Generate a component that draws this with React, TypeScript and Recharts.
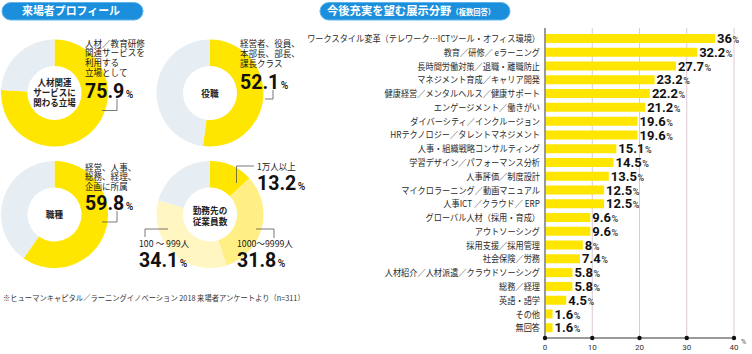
import React from 'react';
import { PieChart, Pie, Cell, BarChart, Bar, XAxis, YAxis, CartesianGrid, LabelList } from 'recharts';

// ---- data ----
const categories = [
  'ワークスタイル変革（テレワーク…ICTツール・オフィス環境）',
  '教育／研修／ eラーニング',
  '長時間労働対策／退職・離職防止',
  'マネジメント育成／キャリア開発',
  '健康経営／メンタルヘルス／健康サポート',
  'エンゲージメント／働きがい',
  'ダイバーシティ／インクルージョン',
  'HRテクノロジー／タレントマネジメント',
  '人事・組織戦略コンサルティング',
  '学習デザイン／パフォーマンス分析',
  '人事評価／制度設計',
  'マイクロラーニング／動画マニュアル',
  '人事ICT ／クラウド／ ERP',
  'グローバル人材（採用・育成）',
  'アウトソーシング',
  '採用支援／採用管理',
  '社会保険／労務',
  '人材紹介／人材派遣／クラウドソーシング',
  '総務／経理',
  '英語・語学',
  'その他',
  '無回答',
];
const values = [36, 32.2, 27.7, 23.2, 22.2, 21.2, 19.6, 19.6, 15.1, 14.5, 13.5, 12.5, 12.5, 9.6, 9.6, 8, 7.4, 5.8, 5.8, 4.5, 1.6, 1.6];
const xTicks = [0, 10, 20, 30, 40];

const positionShares = [75.9, 24.1];
const roleShares = [52.1, 47.9];
const jobShares = [59.8, 40.2];
const sizeNames = ['1万人以上', '1000～9999人', '100 ～ 999人', 'その他'];
const sizeShares = [13.2, 31.8, 34.1, 20.9];

const barData = categories.map((name, i) => ({ name, value: values[i] }));
const toPie = (arr: number[], names?: string[]) => arr.map((v, i) => ({ name: names ? names[i] : String(i), value: v }));

const JP = '"Noto Sans CJK JP", "Noto Sans", sans-serif';
const NUM = 'Roboto, "Noto Sans", sans-serif';
const YELLOW = '#ffe600';
const GREY = '#e6edf3';
const BLUE = '#1b8fdb';

const twoColors = [YELLOW, GREY];
const sizeColors = [YELLOW, '#ffef85', '#fff6c2', GREY];

const BigNum = ({ x, y, v }: { x: number; y: number; v: string }) => (
  <text transform={`translate(${x} ${y}) scale(0.93 1)`} x={0} y={0} fontFamily={NUM} fill="#111">
    <tspan fontSize={21} fontWeight={700}>{v}</tspan>
    <tspan fontSize={11} fontWeight={500} dx={1.5}>%</tspan>
  </text>
);

const Lines = ({ x, ys, lines, size = 8.9, weight = 400, anchor = 'start', sx = 0.96 }: any) => (
  <g>
    {lines.map((l: string, i: number) => (
      <text key={i} transform={`translate(${x} ${ys[i]}) scale(${sx} 1)`} x={0} y={0} fontFamily={JP} fontSize={size} fontWeight={weight} fill="#222" textAnchor={anchor}>{l}</text>
    ))}
  </g>
);

const YTick = (props: any) => {
  const { x, y, payload } = props;
  return (
    <text transform={`translate(${x} ${y + 3.2}) scale(0.91 1)`} x={0} y={0} textAnchor="end" fontFamily={JP} fontSize={9} fill="#2a2a2a">{payload.value}</text>
  );
};

const XTick = (props: any) => {
  const { x, y, payload } = props;
  return (
    <g>
      <circle cx={x} cy={y - 5} r={2.2} fill="#111" />
      <text x={x} y={y + 6.5} textAnchor="middle" fontFamily={NUM} fontSize={8} fill="#333">{payload.value}</text>
    </g>
  );
};

const ValueLabel = (props: any) => {
  const { x, y, width, height, value } = props;
  return (
    <text x={x + width + 2} y={y + height / 2 + 4.6} fontFamily={NUM} fill="#111">
      <tspan fontSize={13} fontWeight={700}>{value}</tspan>
      <tspan fontSize={9} fontWeight={500} fill="#333" dx={0.5}>%</tspan>
    </text>
  );
};

const donut = { inner: 27, outer: 53.5 };

export default function App() {
  return (
    <div style={{ position: 'absolute', left: 0, top: 0, width: 752, height: 354, background: '#fff', overflow: 'hidden' }}>
      <div style={{ position: 'absolute', left: 0, top: 0 }}>
        <PieChart width={300} height={300} margin={{ top: 0, right: 0, bottom: 0, left: 0 }}>
          <Pie data={toPie(positionShares)} dataKey="value" cx={54.5} cy={93} innerRadius={donut.inner} outerRadius={donut.outer} startAngle={90} endAngle={-270} stroke="none" isAnimationActive={false}>
            {positionShares.map((_, i) => <Cell key={i} fill={twoColors[i]} />)}
          </Pie>
          <Pie data={toPie(roleShares)} dataKey="value" cx={210} cy={93} innerRadius={donut.inner} outerRadius={donut.outer} startAngle={90} endAngle={-270} stroke="none" isAnimationActive={false}>
            {roleShares.map((_, i) => <Cell key={i} fill={twoColors[i]} />)}
          </Pie>
          <Pie data={toPie(jobShares)} dataKey="value" cx={54.5} cy={214.5} innerRadius={donut.inner} outerRadius={donut.outer} startAngle={90} endAngle={-270} stroke="none" isAnimationActive={false}>
            {jobShares.map((_, i) => <Cell key={i} fill={twoColors[i]} />)}
          </Pie>
          <Pie data={toPie(sizeShares, sizeNames)} dataKey="value" cx={210} cy={214.5} innerRadius={donut.inner} outerRadius={donut.outer} startAngle={90} endAngle={-270} stroke="none" isAnimationActive={false}>
            {sizeShares.map((_, i) => <Cell key={i} fill={sizeColors[i]} />)}
          </Pie>
        </PieChart>
      </div>

      <div style={{ position: 'absolute', left: 300, top: 0 }}>
        <BarChart width={452} height={354} data={barData} layout="vertical" margin={{ top: 28, right: 18, bottom: 0, left: 0 }}>
          <CartesianGrid horizontal={false} vertical={true} stroke="#dcc9d2" strokeWidth={1} />
          <XAxis type="number" domain={[0, 40]} ticks={xTicks} height={16} tickSize={0} tickMargin={5} axisLine={{ stroke: '#9a9a9a', strokeWidth: 2 }} tickLine={false} tick={<XTick />} interval={0} />
          <YAxis type="category" dataKey="name" width={245} tickSize={0} tickMargin={5} axisLine={{ stroke: '#9a9a9a', strokeWidth: 2 }} tickLine={false} tick={<YTick />} interval={0} padding={{ top: 4, bottom: 3 }} />
          <Bar dataKey="value" fill={YELLOW} barSize={9} isAnimationActive={false}>
            <LabelList dataKey="value" content={<ValueLabel />} />
          </Bar>
        </BarChart>
      </div>

      <svg width={752} height={354} style={{ position: 'absolute', left: 0, top: 0, pointerEvents: 'none' }}>
        {/* titles */}
        <rect x={2} y={2.5} width={141} height={17.5} rx={8.75} fill={BLUE} stroke="#5db4ea" strokeWidth={1} />
        <text transform="translate(22 15.2) scale(0.95 1)" x={0} y={0} fontFamily={JP} fontSize={11.5} fontWeight={700} fill="#fff">来場者プロフィール</text>
        <rect x={320} y={2.5} width={190} height={17.5} rx={8.75} fill={BLUE} stroke="#5db4ea" strokeWidth={1} />
        <text transform="translate(327 15.2) scale(0.96 1)" x={0} y={0} fontFamily={JP} fill="#fff" fontWeight={700}>
          <tspan fontSize={11.8}>今後充実を望む展示分野</tspan>
          <tspan fontSize={7.6}>（複数回答）</tspan>
        </text>

        {/* donut 1 */}
        <Lines x={54.5} ys={[85.5, 95.5, 105.5]} lines={['人材関連', 'サービスに', '関わる立場']} size={9.4} weight={700} anchor="middle" sx={0.9} />
        <Lines x={85} ys={[46.5, 56.2, 65.9, 75.6]} lines={['人材／教育研修', '関連サービスを', '利用する', '立場として']} />
        <BigNum x={85} y={97.5} v="75.9" />
        <polyline points="102,110.5 117,110.5 117,99" fill="none" stroke="#555" strokeWidth={0.8} />

        {/* donut 2 */}
        <Lines x={210} ys={[96.5]} lines={['役職']} size={9.4} weight={700} anchor="middle" sx={0.92} />
        <Lines x={240} ys={[47.3, 57, 66.5]} lines={['経営者、役員、', '本部長、部長、', '課長クラス']} />
        <BigNum x={240} y={88.5} v="52.1" />
        <polyline points="265,99 273,99 273,90" fill="none" stroke="#555" strokeWidth={0.8} />

        {/* donut 3 */}
        <Lines x={54.5} ys={[218.3]} lines={['職種']} size={9.4} weight={700} anchor="middle" sx={0.92} />
        <Lines x={85} ys={[170.5, 180.3, 190.1]} lines={['経営、人事、', '総務、経理、', '企画に所属']} />
        <BigNum x={85} y={210} v="59.8" />
        <polyline points="102,222 117,222 117,211" fill="none" stroke="#555" strokeWidth={0.8} />

        {/* donut 4 */}
        <Lines x={210} ys={[213.5, 224.5]} lines={['勤務先の', '従業員数']} size={9.4} weight={700} anchor="middle" sx={0.92} />
        <Lines x={257} ys={[169.5]} lines={['1万人以上']} />
        <BigNum x={257} y={189.5} v="13.2" />
        <polyline points="254,166 236.5,166 236.5,183" fill="none" stroke="#555" strokeWidth={0.8} />
        <Lines x={139} ys={[246.5]} lines={['100 ～ 999人']} sx={0.98} />
        <BigNum x={139} y={267} v="34.1" />
        <polyline points="168,229 145,229 145,237" fill="none" stroke="#555" strokeWidth={0.8} />
        <Lines x={237} ys={[246.5]} lines={['1000～9999人']} sx={0.98} />
        <BigNum x={237} y={267} v="31.8" />
        <polyline points="256,229 274,229 274,238" fill="none" stroke="#555" strokeWidth={0.8} />

        {/* footnote */}
        <text transform="translate(3 300.8) scale(0.96 1)" x={0} y={0} fontFamily={JP} fontSize={7.6} fill="#333">※ヒューマンキャピタル／ラーニングイノベーション 2018 来場者アンケートより（n=311）</text>

        {/* unit */}
        <text x={741} y={344} fontFamily={NUM} fontSize={7} fill="#555">%</text>
      </svg>
    </div>
  );
}
